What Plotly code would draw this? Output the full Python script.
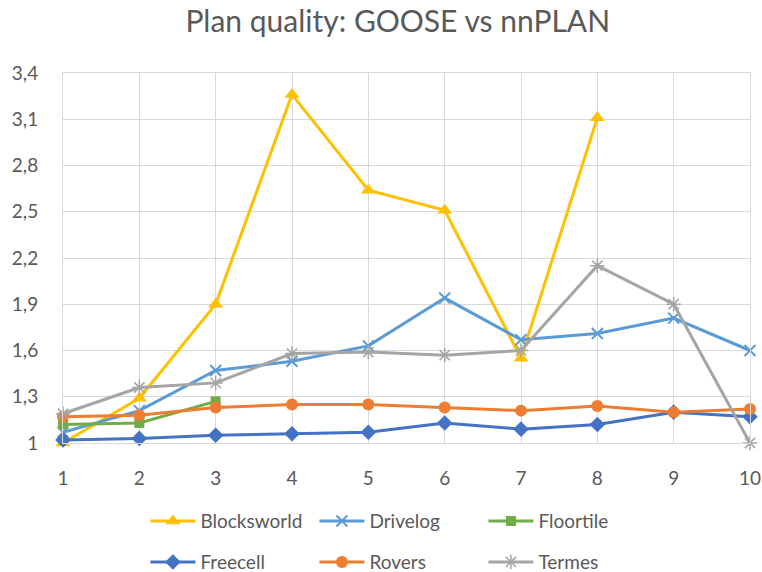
import plotly.graph_objects as go

# Problem index on the x axis
problems = [1, 2, 3, 4, 5, 6, 7, 8, 9, 10]

# Plan quality ratio per domain
blocksworld = [1.00, 1.29, 1.90, 3.26, 2.64, 2.51, 1.55, 3.11]
drivelog = [1.07, 1.21, 1.47, 1.53, 1.63, 1.94, 1.67, 1.71, 1.81, 1.60]
floortile = [1.12, 1.13, 1.27]
freecell = [1.02, 1.03, 1.05, 1.06, 1.07, 1.13, 1.09, 1.12, 1.20, 1.17]
rovers = [1.17, 1.18, 1.23, 1.25, 1.25, 1.23, 1.21, 1.24, 1.20, 1.22]
termes = [1.19, 1.36, 1.39, 1.58, 1.59, 1.57, 1.60, 2.15, 1.90, 1.00]

# Y tick labels use a decimal comma
y_ticks = [1.0, 1.3, 1.6, 1.9, 2.2, 2.5, 2.8, 3.1, 3.4]
y_tick_labels = ["1", "1,3", "1,6", "1,9", "2,2", "2,5", "2,8", "3,1", "3,4"]

FONT = "Lato"
TEXT = "#595959"
GRID = "#D9D9D9"

series = [
    ("Blocksworld", blocksworld, "#FFC000", dict(symbol="triangle-up", size=13), "legend"),
    ("Drivelog", drivelog, "#5B9BD5", dict(symbol="x-thin-open", size=11, line=dict(width=2, color="#5B9BD5")), "legend"),
    ("Floortile", floortile, "#70AD47", dict(symbol="square", size=10), "legend"),
    ("Freecell", freecell, "#4472C4", dict(symbol="diamond", size=12), "legend2"),
    ("Rovers", rovers, "#ED7D31", dict(symbol="circle", size=12), "legend2"),
    ("Termes", termes, "#A5A5A5", dict(symbol="asterisk-open", size=12, line=dict(width=1.5, color="#A5A5A5")), "legend2"),
]

fig = go.Figure()
for name, values, color, marker, leg in series:
    fig.add_trace(go.Scatter(
        x=problems[:len(values)],
        y=values,
        name=name,
        mode="lines+markers",
        line=dict(color=color, width=3),
        marker=dict(color=color, **marker),
        cliponaxis=False,
        legend=leg,
    ))

legend_common = dict(
    orientation="h",
    xanchor="left",
    yanchor="middle",
    x=0.12,
    font=dict(family=FONT, size=19, color=TEXT),
    itemwidth=45,
    entrywidth=109,
    entrywidthmode="pixels",
    bgcolor="rgba(0,0,0,0)",
    tracegroupgap=0,
)

fig.update_layout(
    width=762,
    height=572,
    paper_bgcolor="white",
    plot_bgcolor="white",
    margin=dict(l=63, r=12, t=73, b=129, autoexpand=False),
    title=dict(
        text="Plan quality: GOOSE vs nnPLAN",
        font=dict(family=FONT, size=30, color=TEXT),
        x=0.522,
        xanchor="center",
        y=0.962,
        yanchor="middle",
    ),
    legend=dict(y=-0.211, **legend_common),
    legend2=dict(y=-0.322, **legend_common),
    xaxis=dict(
        range=[1, 10],
        tickvals=problems,
        showgrid=True,
        gridcolor=GRID,
        gridwidth=1,
        showline=True,
        linecolor=GRID,
        linewidth=1,
        mirror=True,
        zeroline=False,
        ticks="",
        ticklabelstandoff=18,
        tickfont=dict(family=FONT, size=19, color=TEXT),
    ),
    yaxis=dict(
        range=[1, 3.4],
        tickvals=y_ticks,
        ticktext=y_tick_labels,
        showgrid=True,
        gridcolor=GRID,
        gridwidth=1,
        showline=True,
        linecolor=GRID,
        linewidth=1,
        mirror=True,
        zeroline=False,
        ticks="",
        ticklabelstandoff=20,
        tickfont=dict(family=FONT, size=19, color=TEXT),
    ),
)

fig.write_html("out.html")
